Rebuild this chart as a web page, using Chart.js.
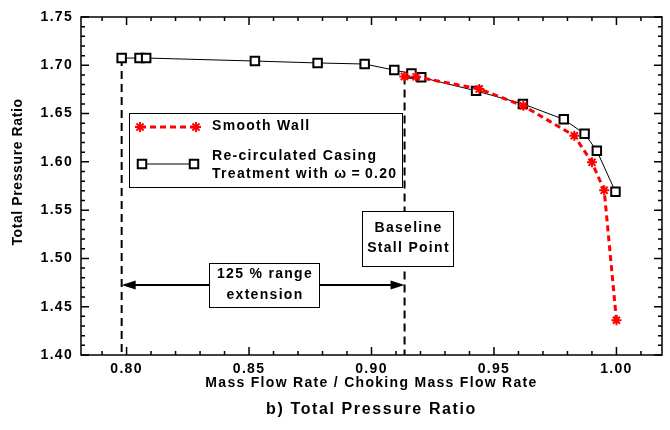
<!DOCTYPE html>
<html>
<head>
<meta charset="utf-8">
<script src="https://cdn.jsdelivr.net/npm/chart.js@4.4.1/dist/chart.umd.min.js"></script>
<style>
  html, body { margin: 0; padding: 0; background: #fff; }
</style>
</head>
<body>
<canvas id="pressureChart" width="670" height="430"></canvas>
<script>
// Smooth wall (red, dashed, star markers)
const smoothX = [0.9134, 0.9182, 0.9440, 0.9620, 0.9828, 0.9900, 0.9950, 1.0000];
const smoothY = [1.6885, 1.6880, 1.6755, 1.6580, 1.6270, 1.5995, 1.5705, 1.4360];

// Re-circulated casing treatment (black, squares)
const casingX = [0.7980, 0.8053, 0.8080, 0.8524, 0.8780, 0.8972, 0.9093, 0.9163, 0.9203, 0.9427, 0.9618, 0.9785, 0.9870, 0.9920, 0.9996];
const casingY = [1.7075, 1.7075, 1.7075, 1.7044, 1.7024, 1.7013, 1.6950, 1.6915, 1.6875, 1.6735, 1.6600, 1.6440, 1.6290, 1.6115, 1.5690];

const xTickLabels = [0.80, 0.85, 0.90, 0.95, 1.00];
const yTickLabels = [1.40, 1.45, 1.50, 1.55, 1.60, 1.65, 1.70, 1.75];

// annotation values
const extensionX = 0.798;   // casing stall point
const stallX = 0.9135;      // baseline stall point
const arrowY = 1.4725;

const FONT = 'bold 14px "Liberation Sans", Arial, sans-serif';

function toPoints(xs, ys) {
    return xs.map((x, i) => ({ x: x, y: ys[i] }));
}

function drawMarker(ctx, style, x, y, r, color, fill) {
    ctx.save();
    ctx.strokeStyle = color;
    ctx.fillStyle = fill;
    ctx.lineWidth = 2;
    ctx.setLineDash([]);
    Chart.helpers.drawPoint(ctx, { pointStyle: style, radius: r, borderWidth: 2 }, x, y);
    ctx.restore();
}

const decorPlugin = {
    id: 'decor',
    beforeDraw(chart) {
        chart.ctx.letterSpacing = '1.3px';
    },
    beforeDatasetsDraw(chart) {
        const ctx = chart.ctx;
        const xs = chart.scales.x, ys = chart.scales.y;
        const a = chart.chartArea;
        ctx.save();
        ctx.strokeStyle = '#000';
        ctx.lineWidth = 2;
        ctx.setLineDash([8, 5]);
        // vertical dashed lines
        let px = xs.getPixelForValue(extensionX);
        ctx.beginPath();
        ctx.moveTo(px, ys.getPixelForValue(casingY[0]));
        ctx.lineTo(px, a.bottom);
        ctx.stroke();
        px = xs.getPixelForValue(stallX);
        ctx.beginPath();
        ctx.moveTo(px, ys.getPixelForValue(smoothY[0]));
        ctx.lineTo(px, a.bottom);
        ctx.stroke();
        ctx.restore();
    },
    afterDraw(chart) {
        const ctx = chart.ctx;
        const xs = chart.scales.x, ys = chart.scales.y;
        const a = chart.chartArea;
        ctx.save();
        ctx.letterSpacing = '1.3px';

        // frame
        ctx.strokeStyle = '#000';
        ctx.lineWidth = 1.5;
        ctx.strokeRect(a.left, a.top, a.right - a.left, a.bottom - a.top);

        // inward ticks on all four sides
        ctx.lineWidth = 1.5;
        ctx.beginPath();
        for (let i = 79; i <= 101; i++) {
            const v = i / 100;
            const p = xs.getPixelForValue(v);
            if (p < a.left || p > a.right) continue;
            const len = i % 5 === 0 ? 8 : 4;
            ctx.moveTo(p, a.bottom); ctx.lineTo(p, a.bottom - len);
            ctx.moveTo(p, a.top); ctx.lineTo(p, a.top + len);
        }
        for (let i = 140; i <= 175; i++) {
            const p = ys.getPixelForValue(i / 100);
            const len = i % 5 === 0 ? 8 : 4;
            ctx.moveTo(a.left, p); ctx.lineTo(a.left + len, p);
            ctx.moveTo(a.right, p); ctx.lineTo(a.right - len, p);
        }
        ctx.stroke();

        // double arrow for range extension
        const x1 = xs.getPixelForValue(extensionX);
        const x2 = xs.getPixelForValue(stallX);
        const ay = ys.getPixelForValue(arrowY);
        ctx.lineWidth = 2;
        ctx.beginPath();
        ctx.moveTo(x1 + 10, ay); ctx.lineTo(x2 - 10, ay);
        ctx.stroke();
        ctx.fillStyle = '#000';
        ctx.beginPath();
        ctx.moveTo(x1, ay); ctx.lineTo(x1 + 14, ay - 4.5); ctx.lineTo(x1 + 14, ay + 4.5); ctx.closePath();
        ctx.moveTo(x2, ay); ctx.lineTo(x2 - 14, ay - 4.5); ctx.lineTo(x2 - 14, ay + 4.5); ctx.closePath();
        ctx.fill();

        // text boxes
        function box(x, y, w, h, lines, lineGap) {
            ctx.fillStyle = '#fff';
            ctx.fillRect(x, y, w, h);
            ctx.strokeStyle = '#000';
            ctx.lineWidth = 1;
            ctx.strokeRect(x + 0.5, y + 0.5, w, h);
            ctx.fillStyle = '#000';
            ctx.font = FONT;
            ctx.textAlign = 'center';
            ctx.textBaseline = 'middle';
            const cy = y + h / 2 - (lines.length - 1) * lineGap / 2;
            lines.forEach((t, i) => ctx.fillText(t, x + w / 2 + 1, cy + i * lineGap));
        }
        box(209, 263, 110, 44, ['125 % range', 'extension'], 21);
        box(362, 211, 91, 55, ['Baseline', 'Stall Point'], 20);

        // legend
        ctx.fillStyle = '#fff';
        ctx.fillRect(129, 113, 273, 74);
        ctx.strokeStyle = '#000';
        ctx.lineWidth = 1;
        ctx.strokeRect(129.5, 113.5, 273, 74);

        ctx.strokeStyle = '#ff0000';
        ctx.lineWidth = 3;
        ctx.setLineDash([6, 4]);
        ctx.beginPath(); ctx.moveTo(140, 127); ctx.lineTo(196, 127); ctx.stroke();
        ctx.setLineDash([]);
        drawMarker(ctx, 'star', 140, 127, 5, '#ff0000', '#ff0000');
        drawMarker(ctx, 'star', 196, 127, 5, '#ff0000', '#ff0000');

        ctx.strokeStyle = '#000';
        ctx.lineWidth = 1;
        ctx.beginPath(); ctx.moveTo(142, 164); ctx.lineTo(194, 164); ctx.stroke();
        drawMarker(ctx, 'rect', 142, 164, 6, '#000', '#fff');
        drawMarker(ctx, 'rect', 194, 164, 6, '#000', '#fff');

        ctx.fillStyle = '#000';
        ctx.font = FONT;
        ctx.textAlign = 'left';
        ctx.textBaseline = 'middle';
        ctx.fillText('Smooth Wall', 212, 126);
        ctx.fillText('Re-circulated Casing', 212, 156);
        ctx.fillText('Treatment with \u03c9\u2009=\u20090.20', 212, 174);

        // axis titles and caption
        ctx.textAlign = 'center';
        ctx.fillText('Mass Flow Rate / Choking Mass Flow Rate', (a.left + a.right) / 2, 383);
        ctx.font = 'bold 16px "Liberation Sans", Arial, sans-serif';
        ctx.letterSpacing = '1.6px';
        ctx.fillText('b) Total Pressure Ratio', (a.left + a.right) / 2, 410);
        ctx.font = FONT;
        ctx.letterSpacing = '0.6px';
        ctx.translate(18, 172);
        ctx.rotate(-Math.PI / 2);
        ctx.fillText('Total Pressure Ratio', 0, 0);
        ctx.restore();
    }
};

const pressureChart = new Chart(document.getElementById('pressureChart'), {
    type: 'scatter',
    data: {
        datasets: [{
            label: 'Re-circulated Casing Treatment',
            data: toPoints(casingX, casingY),
            showLine: true,
            borderColor: '#000',
            borderWidth: 1,
            pointStyle: 'rect',
            pointRadius: 6,
            pointBorderWidth: 2,
            pointBorderColor: '#000',
            pointBackgroundColor: '#fff',
            order: 2
        }, {
            label: 'Smooth Wall',
            data: toPoints(smoothX, smoothY),
            showLine: true,
            borderColor: '#ff0000',
            borderWidth: 3,
            borderDash: [6, 4],
            pointStyle: 'star',
            pointRadius: 5,
            pointBorderWidth: 2,
            pointBorderColor: '#ff0000',
            pointBackgroundColor: '#ff0000',
            order: 1
        }]
    },
    options: {
        responsive: false,
        animation: false,
        layout: { padding: { top: 17, right: 1, left: 0, bottom: 0 } },
        plugins: {
            legend: { display: false },
            tooltip: { enabled: false }
        },
        scales: {
            x: {
                type: 'linear',
                min: 0.7814,
                max: 1.0186,
                afterFit: s => { s.height = 75; s.paddingLeft = 0; s.paddingRight = 0; },
                afterBuildTicks: s => { s.ticks = xTickLabels.map(v => ({ value: v })); },
                grid: { display: false, drawTicks: false },
                border: { display: false },
                ticks: {
                    color: '#000',
                    font: { family: '"Liberation Sans", Arial, sans-serif', size: 14, weight: 'bold' },
                    padding: 6,
                    maxRotation: 0,
                    callback: v => v.toFixed(2)
                }
            },
            y: {
                type: 'linear',
                min: 1.40,
                max: 1.75,
                afterFit: s => { s.width = 81; s.paddingTop = 0; s.paddingBottom = 0; },
                afterBuildTicks: s => { s.ticks = yTickLabels.map(v => ({ value: v })); },
                grid: { display: false, drawTicks: false },
                border: { display: false },
                ticks: {
                    color: '#000',
                    font: { family: '"Liberation Sans", Arial, sans-serif', size: 14, weight: 'bold' },
                    padding: 8,
                    callback: v => v.toFixed(2)
                }
            }
        }
    },
    plugins: [decorPlugin]
});
</script>
</body>
</html>
